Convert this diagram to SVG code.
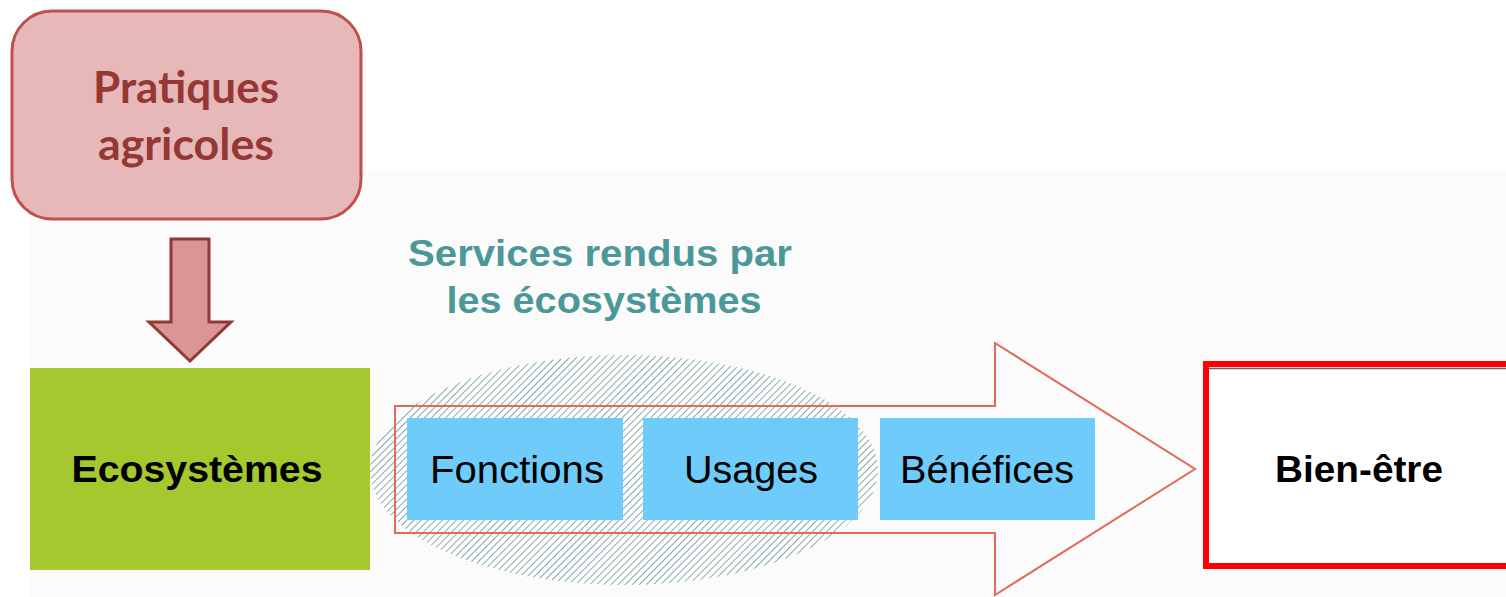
<svg xmlns="http://www.w3.org/2000/svg" width="1506" height="597" viewBox="0 0 1506 597">
  <defs>
    <pattern id="hatch" patternUnits="userSpaceOnUse" width="5" height="5" patternTransform="rotate(45)">
      <rect width="5" height="5" fill="#ffffff"/>
      <line x1="0" y1="0" x2="0" y2="5" stroke="#86aaaa" stroke-width="2"/>
    </pattern>
  </defs>
  <style>
    .lbl { font-family: "Liberation Sans", Arial, sans-serif; fill: #000000; text-anchor: middle; }
    .bold { font-weight: bold; }
    .svc { fill: #6ecbfa; }
    .practice { font-family: Lato, "Open Sans", sans-serif; font-weight: bold; font-size: 44px; fill: #953735; text-anchor: middle; }
    .title { font-family: "Liberation Sans", Arial, sans-serif; font-weight: bold; font-size: 37px; fill: #4a9898; text-anchor: middle; }
  </style>

  <rect width="1506" height="597" fill="#ffffff"/>
  <rect x="30" y="170" width="1476" height="427" fill="#fbfbfb"/>

  <!-- Agricultural practices -->
  <g id="pratiques">
    <rect x="12" y="11" width="349" height="208" rx="40" ry="40" fill="#e6b8b7" stroke="#c0504d" stroke-width="3"/>
    <text class="practice" x="186" y="103" textLength="186" lengthAdjust="spacingAndGlyphs">Pratiques</text>
    <text class="practice" x="186" y="160" textLength="176" lengthAdjust="spacingAndGlyphs">agricoles</text>
  </g>

  <!-- Ecosystems -->
  <g id="ecosystemes">
    <rect x="30" y="368" width="340" height="202" fill="#a5c82e"/>
    <text class="lbl bold" x="197" y="482" font-size="37" textLength="251" lengthAdjust="spacingAndGlyphs">Ecosystèmes</text>
  </g>

  <!-- Ecosystem services -->
  <g id="services">
    <ellipse cx="624" cy="470" rx="254" ry="115" fill="url(#hatch)"/>
    <text class="title" x="600" y="266" textLength="384" lengthAdjust="spacingAndGlyphs">Services rendus par</text>
    <text class="title" x="604" y="313" textLength="315" lengthAdjust="spacingAndGlyphs">les écosystèmes</text>
  </g>

  <!-- Wide flow arrow and the practices-to-ecosystems arrow -->
  <g id="connectors">
    <path d="M395,406 H995 V343 L1195,469 L995,595 V533 H395 Z" fill="none" stroke="#e26a5c" stroke-width="2"/>
    <path d="M171,239 H209 V322 H231 L190,361 L149,322 H171 Z" fill="#d99694" stroke="#953735" stroke-width="3" stroke-linejoin="miter"/>
  </g>

  <g id="fonctions">
    <rect class="svc" x="407" y="418" width="216" height="102"/>
    <text class="lbl" x="517" y="483" font-size="38" textLength="174" lengthAdjust="spacingAndGlyphs">Fonctions</text>
  </g>

  <g id="usages">
    <rect class="svc" x="643" y="418" width="215" height="102"/>
    <text class="lbl" x="751" y="483" font-size="38" textLength="134" lengthAdjust="spacingAndGlyphs">Usages</text>
  </g>

  <g id="benefices">
    <rect class="svc" x="880" y="418" width="215" height="102"/>
    <text class="lbl" x="987" y="483" font-size="38" textLength="174" lengthAdjust="spacingAndGlyphs">Bénéfices</text>
  </g>

  <!-- Well-being -->
  <g id="bien-etre">
    <rect x="1206" y="364" width="310" height="202" fill="#ffffff" stroke="#ff0000" stroke-width="6"/>
    <line x1="1209" y1="368.5" x2="1506" y2="368.5" stroke="#666666" stroke-width="1.5"/>
    <text class="lbl bold" x="1359" y="482" font-size="37" textLength="168" lengthAdjust="spacingAndGlyphs">Bien-être</text>
  </g>
</svg>
